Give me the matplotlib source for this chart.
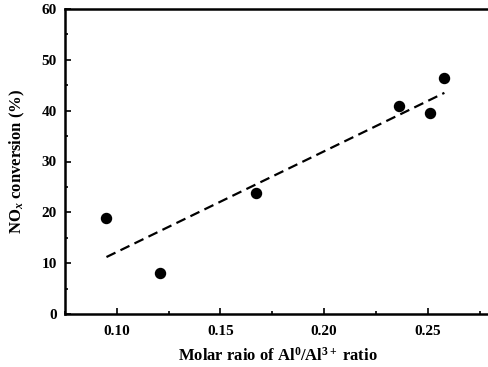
import matplotlib
matplotlib.use("Agg")
import matplotlib.pyplot as plt
import numpy as np

plt.rcParams['font.family'] = 'Liberation Serif'
plt.rcParams['font.weight'] = 'bold'
plt.rcParams['mathtext.fontset'] = 'custom'
plt.rcParams['mathtext.rm'] = 'Liberation Serif:bold'
plt.rcParams['mathtext.it'] = 'Liberation Serif:bold:italic'
plt.rcParams['mathtext.bf'] = 'Liberation Serif:bold'

# Al0/Al3+ molar ratio vs NOx conversion
ratio = np.array([0.095, 0.121, 0.167, 0.236, 0.251, 0.258])
conversion = np.array([18.9, 8.1, 23.9, 40.9, 39.5, 46.5])

xticks = [0.10, 0.15, 0.20, 0.25]
yticks = [0, 10, 20, 30, 40, 50, 60]

fig = plt.figure(figsize=(4.88, 3.67), dpi=100)
ax = fig.add_axes([65 / 488, 53 / 367, 425 / 488, 305 / 367])

# linear fit drawn across the data range
k, b = np.polyfit(ratio, conversion, 1)
xf = np.array([ratio.min(), ratio.max()])
ax.plot(xf, k * xf + b, color='black', linestyle=(0, (4.5, 2.5)), linewidth=1.6)
ax.scatter(ratio, conversion, s=52, color='black', zorder=3)

ax.set_xlim(0.08, 0.28)
ax.set_ylim(0, 60)
ax.set_xticks(xticks)
ax.set_xticks(np.arange(0.075, 0.29, 0.025), minor=True)
ax.set_yticks(yticks)
ax.set_yticks(np.arange(5, 60, 10), minor=True)
ax.set_xticklabels(['%.2f' % t for t in xticks])
ax.tick_params(which='both', direction='in', labelsize=11, width=1.2)
ax.tick_params(which='major', length=4)
ax.tick_params(which='minor', length=2.5)
ax.tick_params(axis='x', pad=8)
ax.tick_params(axis='y', pad=6)

for s in ['left', 'bottom', 'top']:
    ax.spines[s].set_linewidth(1.8)
ax.spines['right'].set_visible(False)

ax.set_xlabel('Molar raio of Al$^{0}$/Al$^{3+}$ ratio', fontsize=12, fontweight='bold', labelpad=6)
ax.set_ylabel('NO$_{x}$ conversion (%)', fontsize=12, fontweight='bold', labelpad=10)

fig.savefig('out.png', dpi=100)
